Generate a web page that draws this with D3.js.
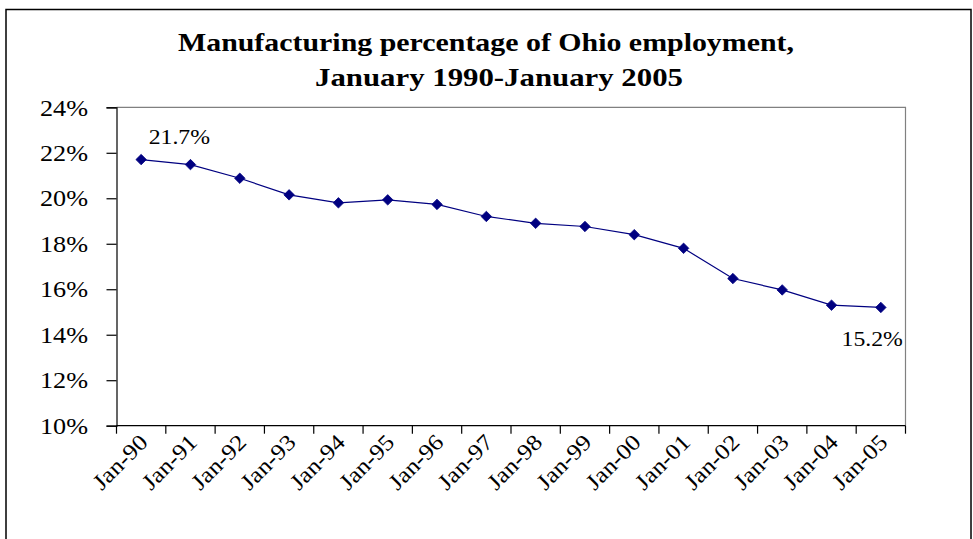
<!DOCTYPE html>
<html>
<head>
<meta charset="utf-8">
<script src="https://cdn.jsdelivr.net/npm/d3@7/dist/d3.min.js"></script>
<style>
  html, body { margin: 0; padding: 0; background: #fff; }
  svg { display: block; }
  text { font-family: "Liberation Serif", "Times New Roman", serif; fill: #000; }
</style>
</head>
<body>
<svg id="chart" width="973" height="539"></svg>
<script>
const categories = ["Jan-90","Jan-91","Jan-92","Jan-93","Jan-94","Jan-95","Jan-96","Jan-97",
                    "Jan-98","Jan-99","Jan-00","Jan-01","Jan-02","Jan-03","Jan-04","Jan-05"];
const values = [21.7, 21.48, 20.88, 20.15, 19.8, 19.93, 19.73, 19.2,
                18.9, 18.76, 18.4, 17.8, 16.47, 15.97, 15.3, 15.2];
const yTicks = [10, 12, 14, 16, 18, 20, 22, 24];
const titleLines = ["Manufacturing percentage of Ohio employment,", "January 1990-January 2005"];
const labelled = [{i: 0, text: "21.7%"}, {i: 15, text: "15.2%"}];

const svg = d3.select("#chart");
const plot = {left: 116.5, right: 905.5, top: 107.3, bottom: 425.7};

// outer border
svg.append("rect").attr("x", 6).attr("y", 9.5).attr("width", 965).attr("height", 600)
  .attr("fill", "none").attr("stroke", "#000").attr("stroke-width", 1.5);

const x = d3.scaleBand().domain(categories).range([plot.left, plot.right]);
const y = d3.scaleLinear().domain([10, 24]).range([plot.bottom, plot.top]);

// plot frame top & right (gray)
svg.append("path")
  .attr("d", `M${plot.left},${plot.top}H${plot.right}V${plot.bottom}`)
  .attr("fill", "none").attr("stroke", "#808080").attr("stroke-width", 1.2);

// Title
const titleX = [486, 499];
const titleLens = [616, 368];
const titleY = [51, 86];
titleLines.forEach((t, k) => {
  svg.append("text").attr("x", titleX[k]).attr("y", titleY[k])
    .attr("text-anchor", "middle").attr("font-weight", "bold").attr("font-size", 24.5)
    .attr("textLength", titleLens[k]).attr("lengthAdjust", "spacingAndGlyphs")
    .text(t);
});

// Y axis
const yAxis = d3.axisLeft(y).tickValues(yTicks).tickSize(10).tickPadding(0)
  .tickFormat(d => d + "%");
const gy = svg.append("g").attr("transform", `translate(${plot.left},0)`).call(yAxis);
gy.select(".domain").attr("stroke", "#000").attr("stroke-width", 1.2);
gy.selectAll(".tick line").attr("stroke", "#000").attr("stroke-width", 1.2);
gy.selectAll(".tick text").remove();
gy.selectAll(".tick").append("text")
  .attr("text-anchor", "end").attr("font-size", 23)
  .attr("transform", "translate(-28.5,7.7) scale(1.14,1)")
  .text(d => d + "%");

// X axis (ticks between categories)
const edges = categories.map(c => x(c)).concat([plot.right]);
const gx = svg.append("g").attr("transform", `translate(0,${plot.bottom})`);
gx.append("line").attr("x1", plot.left).attr("x2", plot.right)
  .attr("stroke", "#000").attr("stroke-width", 1.2);
gx.selectAll("line.tk").data(edges).join("line").attr("class", "tk")
  .attr("x1", d => d).attr("x2", d => d).attr("y1", 0).attr("y2", 8)
  .attr("stroke", "#000").attr("stroke-width", 1.2);
gx.selectAll("text.xl").data(categories).join("text").attr("class", "xl")
  .attr("text-anchor", "end").attr("font-size", 22.5)
  .attr("transform", d => `translate(${x(d) + x.bandwidth() / 2 + 8},${18}) rotate(-45) scale(1.12,1)`)
  .text(d => d);

// Line
const cx = (d, i) => x(categories[i]) + x.bandwidth() / 2;
const line = d3.line().x((d, i) => cx(d, i)).y(d => y(d));
svg.append("path").datum(values).attr("d", line)
  .attr("fill", "none").attr("stroke", "#000080").attr("stroke-width", 1.2);

// Markers
svg.selectAll("path.mk").data(values).join("path").attr("class", "mk")
  .attr("d", d3.symbol().type(d3.symbolDiamond2).size(70))
  .attr("transform", (d, i) => `translate(${cx(d, i)},${y(d)})`)
  .attr("fill", "#000080").attr("stroke", "#000080").attr("stroke-width", 0.8);

// Data labels
svg.append("text").attr("font-size", 22)
  .attr("transform", `translate(${cx(null, labelled[0].i) + 7.5},${y(values[labelled[0].i]) - 15.7}) scale(1.08,1)`)
  .text(labelled[0].text);
svg.append("text").attr("font-size", 22).attr("text-anchor", "end")
  .attr("transform", `translate(${cx(null, labelled[1].i) + 22},${y(values[labelled[1].i]) + 38.5}) scale(1.08,1)`)
  .text(labelled[1].text);
</script>
</body>
</html>
